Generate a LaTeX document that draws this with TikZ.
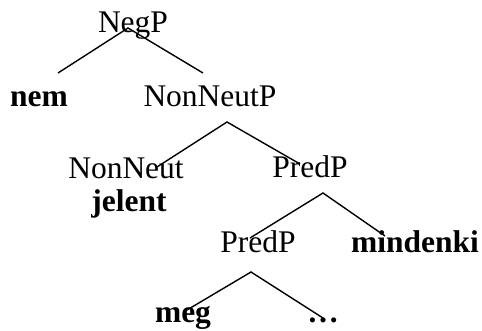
\documentclass[tikz,border=0pt]{standalone}
\usepackage{fontspec}
\setmainfont{Liberation Serif}
\begin{document}
\begin{tikzpicture}[x=1pt,y=-1pt,
  lbl/.style={anchor=base,inner sep=0pt,font=\fontsize{31.5}{36}\selectfont},
  blbl/.style={lbl,font=\fontsize{31.5}{36}\selectfont\bfseries},
  branch/.style={line width=1.4pt}]
\useasboundingbox (0,0) rectangle (482,331);
% labels
\node[lbl]  (negp)  at (133,33)  {NegP};
\node[blbl] (nem)   at (39,107)  {nem};
\node[lbl]  (nnp)   at (210,107) {NonNeutP};
\node[lbl]  (nn)    at (126,179) {NonNeut};
\node[blbl] (jel)   at (129,212) {jelent};
\node[lbl]  (pp1)   at (310,178) {PredP};
\node[lbl]  (pp2)   at (258,253) {PredP};
\node[blbl] (mind)  at (415,253) {mindenki};
\node[blbl] (meg)   at (183,322) {meg};
\node[blbl] (dots)  at (323,322) {…};
% branch points
\coordinate (a1) at (128,28);
\coordinate (a1l) at (58,73);
\coordinate (a1r) at (203,73);
\coordinate (a2) at (227,122);
\coordinate (a2l) at (157,167);
\coordinate (a2r) at (300,164);
\coordinate (a3) at (323,193);
\coordinate (a3l) at (250,238);
\coordinate (a3r) at (385,236);
\coordinate (a4) at (251,272);
\coordinate (a4l) at (187,310);
\coordinate (a4r) at (323,318);
\draw[branch] (a1l) -- (a1) -- (a1r);
\draw[branch] (a2l) -- (a2) -- (a2r);
\draw[branch] (a3l) -- (a3) -- (a3r);
\draw[branch] (a4l) -- (a4) -- (a4r);
\end{tikzpicture}
\end{document}
